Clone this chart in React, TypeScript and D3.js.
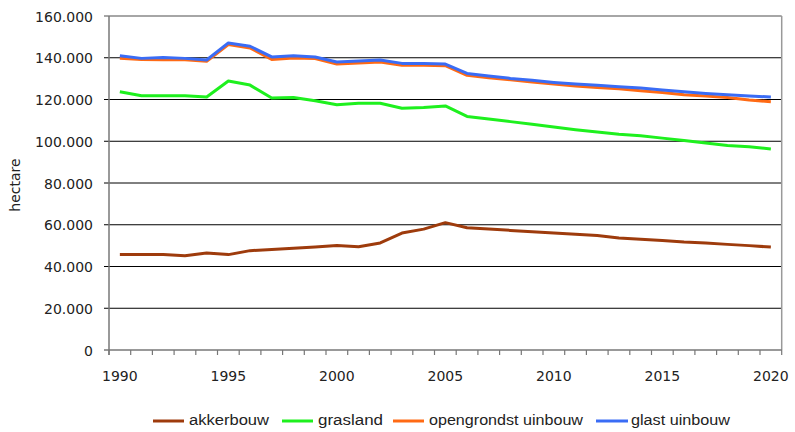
import React from "react";
import * as d3 from "d3";

const years = [1990,1991,1992,1993,1994,1995,1996,1997,1998,1999,2000,2001,2002,2003,2004,2005,2006,2007,2008,2009,2010,2011,2012,2013,2014,2015,2016,2017,2018,2019,2020];
const akkerbouw = [45800,45800,45800,45200,46500,45700,47600,48200,48700,49300,50100,49500,51300,56000,57900,61000,58600,58000,57300,56700,56000,55400,54800,53700,53000,52400,51700,51300,50600,50000,49300];
const grasland = [123700,121800,121800,121800,121200,128900,126900,120700,121000,119400,117500,118200,118200,115800,116200,116900,111900,110700,109400,108100,106800,105500,104400,103300,102600,101500,100400,99200,98000,97400,96300];
const opengrondstuinbouw = [139700,139200,139000,139000,138300,146300,144700,139200,139900,139600,137000,137500,138000,136400,136400,136200,131600,130400,129500,128400,127400,126500,125800,125200,124200,123400,122300,121700,121000,119800,118900];
const glastuinbouw = [141000,139700,140100,139700,138900,147100,145500,140400,141000,140400,138000,138400,138900,137300,137300,137000,132500,131300,130100,129200,128200,127400,126800,126100,125500,124600,123700,122900,122300,121700,121200];
const yTicks = [0,20000,40000,60000,80000,100000,120000,140000,160000];
const xLabels = [1990,1995,2000,2005,2010,2015,2020];

const seriesNames = ["akkerbouw","grasland","opengrondstuinbouw","glastuinbouw"];
const seriesLabels = ["akkerbouw","grasland","opengrondst uinbouw","glast uinbouw"];
const seriesColors = ["#9E3B0C","#1EF01E","#FF6A14","#3A6CF5"];
const seriesData = [akkerbouw, grasland, opengrondstuinbouw, glastuinbouw];

const W = 795, H = 432;
const L = 109, R = 781.7, T = 16, B = 350;

const nl = d3.formatLocale({ decimal: ",", thousands: ".", grouping: [3], currency: ["€", ""] });
const fmt = nl.format(",d");

export default function App() {
  const x = d3.scaleBand<number>().domain(years).range([L, R]).paddingInner(0).paddingOuter(0);
  const y = d3.scaleLinear().domain([0, 160000]).range([B, T]);
  const cx = (yr: number) => (x(yr) as number) + x.bandwidth() / 2;

  const line = (vals: number[]) =>
    d3.line<number>().x((_, i) => cx(years[i])).y((v) => y(v))(vals) as string;

  const tickXs = years.map((yr) => x(yr) as number).concat([R]);

  const legendLine = [[153,184],[282,313],[393,424],[596,628]];
  const legendText = [[189,80],[318,65],[429,154],[631,99]];

  return (
    <svg width={W} height={H} style={{ position: "absolute", left: 0, top: 0, background: "#fff" }}
      fontFamily="'DejaVu Sans', sans-serif">
      <rect x={0} y={0} width={W} height={H} fill="#fff" />
      {/* gridlines */}
      {yTicks.filter((t) => t > 0).map((t) => (
        <line key={t} x1={L - 5} x2={R} y1={y(t)} y2={y(t)}
          stroke={t === 160000 ? "#888" : "#000"} strokeWidth={t === 160000 ? 1.5 : 1} />
      ))}
      {/* right border */}
      <line x1={R} x2={R} y1={T} y2={B} stroke="#999" strokeWidth={1.5} />
      {/* axes */}
      <line x1={L} x2={L} y1={T} y2={B + 5} stroke="#777" strokeWidth={1.5} />
      <line x1={L - 5} x2={R} y1={B} y2={B} stroke="#777" strokeWidth={1.5} />
      {tickXs.map((tx, i) => (
        <line key={i} x1={tx} x2={tx} y1={B} y2={B + 5} stroke="#777" strokeWidth={1.2} />
      ))}
      {/* y labels */}
      {yTicks.map((t) => (
        <text key={t} x={93} y={y(t) + 5.5} textAnchor="end" fontSize={14} fill="#222">{fmt(t)}</text>
      ))}
      {/* x labels */}
      {xLabels.map((yr) => (
        <text key={yr} x={cx(yr)} y={381} textAnchor="middle" fontSize={14} fill="#222">{yr}</text>
      ))}
      {/* y title */}
      <text transform="translate(20,185) rotate(-90)" textAnchor="middle" fontSize={14} fill="#222">hectare</text>
      {/* series */}
      {seriesData.map((vals, i) => (
        <path key={seriesNames[i]} d={line(vals)} fill="none" stroke={seriesColors[i]} strokeWidth={3}
          strokeLinejoin="round" strokeLinecap="butt" />
      ))}
      {/* legend */}
      {seriesLabels.map((lab, i) => (
        <g key={lab}>
          <line x1={legendLine[i][0]} x2={legendLine[i][1]} y1={421} y2={421} stroke={seriesColors[i]} strokeWidth={3} />
          <text x={legendText[i][0]} y={424.5} fontSize={14} fill="#222"
            fontFamily="'Liberation Sans Narrow', 'Liberation Sans', sans-serif"
            textLength={legendText[i][1]} lengthAdjust="spacingAndGlyphs">{lab}</text>
        </g>
      ))}
    </svg>
  );
}
